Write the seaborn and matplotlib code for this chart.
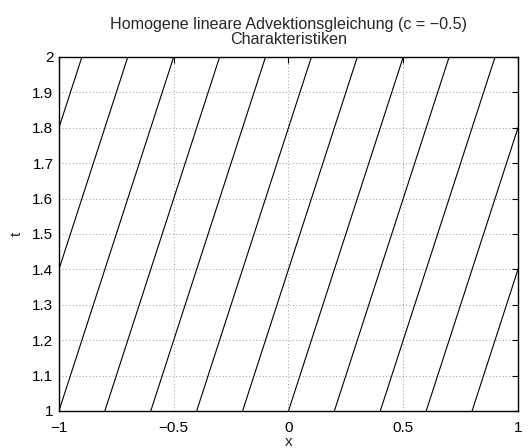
import numpy as np
import pandas as pd
import matplotlib
matplotlib.use('Agg')
import matplotlib.pyplot as plt
import seaborn as sns

# Startpunkte der Charakteristiken bei t = 1
x_start = [-1.4, -1.2, -1.0, -0.8, -0.6, -0.4, -0.2, 0.0, 0.2, 0.4, 0.6, 0.8]
t_range = [1.0, 2.0]
c = -0.5
y_ticks = [1, 1.1, 1.2, 1.3, 1.4, 1.5, 1.6, 1.7, 1.8, 1.9, 2]
y_labels = ['1', '1.1', '1.2', '1.3', '1.4', '1.5', '1.6', '1.7', '1.8', '1.9', '2']
x_ticks = [-1, -0.5, 0, 0.5, 1]
x_labels = ['\u22121', '\u22120.5', '0', '0.5', '1']

rows = []
for i, x0 in enumerate(x_start):
    for t in t_range:
        rows.append({'line': i, 't': t, 'x': x0 - c * (t - t_range[0])})
df = pd.DataFrame(rows)

sns.set_style('white')
plt.rcParams['font.family'] = ['Liberation Sans', 'DejaVu Sans']

fig = plt.figure(figsize=(5.31, 4.48), dpi=100)
ax = fig.add_axes([0.111, 0.0826, 0.8645, 0.7902])

sns.lineplot(data=df, x='x', y='t', units='line', estimator=None,
             color='black', linewidth=0.8, sort=False, ax=ax)

ax.set_xlim(-1, 1)
ax.set_ylim(1, 2)
ax.set_xticks(x_ticks)
ax.set_xticklabels(x_labels)
ax.set_yticks(y_ticks)
ax.set_yticklabels(y_labels)
ax.grid(True, linestyle=(0, (1, 3)), color='#777777', linewidth=0.6)
ax.tick_params(direction='in', top=True, right=True, length=4, width=0.8,
               labelsize=11, colors='black')
ax.tick_params(axis='x', pad=7)
ax.tick_params(axis='y', pad=4)
for s in ax.spines.values():
    s.set_color('black')
    s.set_linewidth(1.0)
ax.set_xlabel('x', fontsize=11, labelpad=0)
ax.set_ylabel('t', fontsize=11, labelpad=6)
ax.set_title('Homogene lineare Advektionsgleichung (c = \u22120.5)\nCharakteristiken',
             fontsize=11.6, pad=9, linespacing=1.0)

fig.savefig('out.png', dpi=100)
